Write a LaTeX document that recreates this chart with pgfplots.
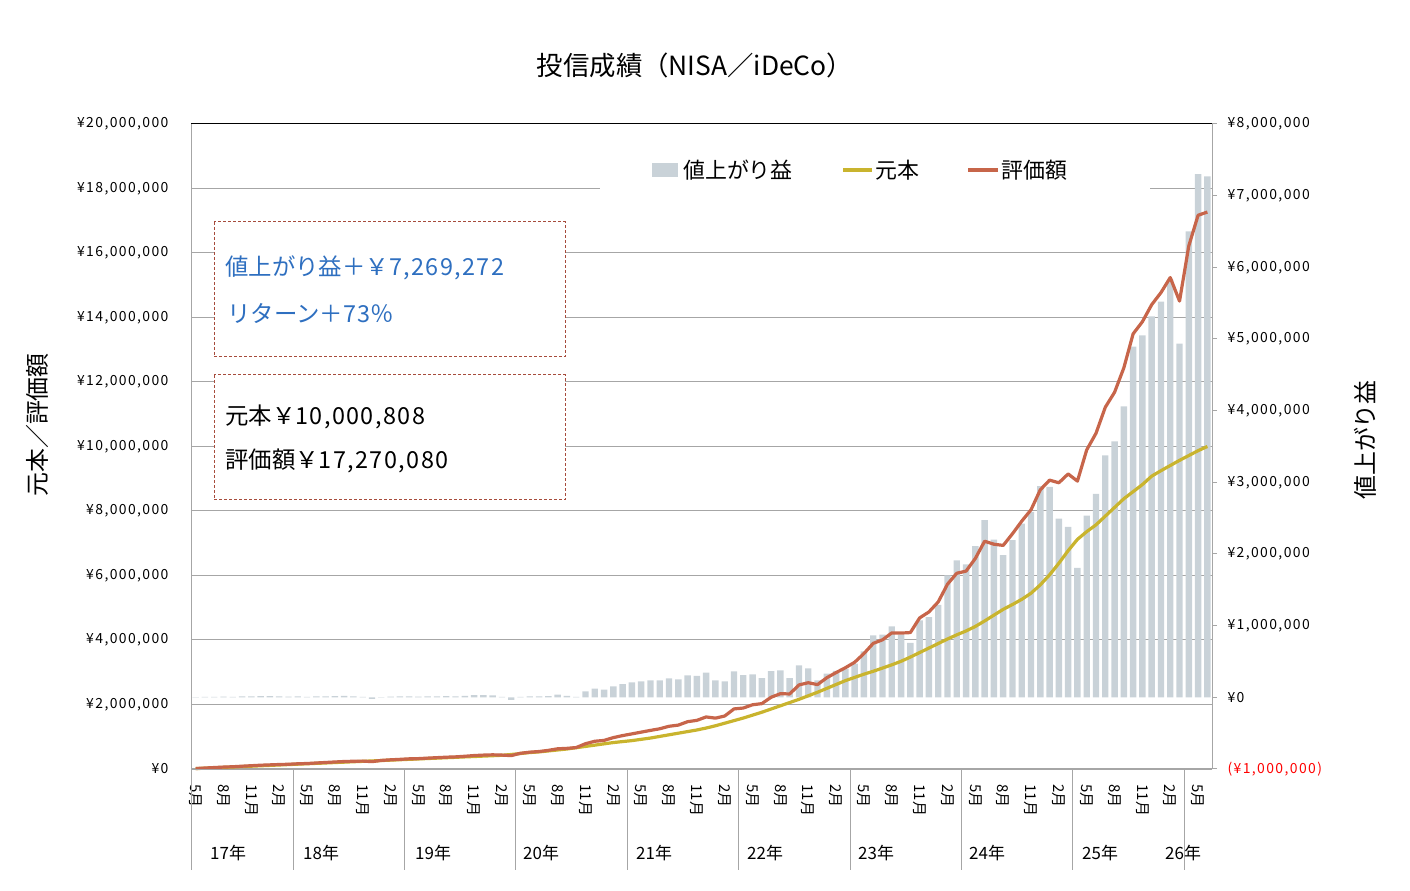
\documentclass[border=0pt]{standalone}
\usepackage{fontspec}
\usepackage{pgfplots}
\usepackage{pgfplotstable}
\pgfplotsset{compat=1.18}
\setmainfont{Noto Sans CJK JP}
\newfontfamily\numfont{Noto Sans CJK JP}[LetterSpace=10]
\newfontfamily\boxnum{Noto Sans CJK JP}[LetterSpace=6]
\definecolor{barc}{HTML}{C9D2D8}
\definecolor{ylw}{HTML}{C9B42E}
\definecolor{redl}{HTML}{C7654A}
\definecolor{bluet}{HTML}{2E6FC0}
\definecolor{boxr}{HTML}{A64B3C}
\definecolor{gridc}{HTML}{A6A6A6}
\definecolor{negred}{HTML}{FF0000}
\newcommand\ticfont{\numfont\fontsize{14}{16}\selectfont}
\newcommand\monfont{\fontsize{15}{17}\selectfont}

% i = month index (0 = 2017-05), p = principal, g = gain, v = value (million yen)
\pgfplotstableread{
i p g v
0 0.012 0.003 0.015
1 0.025 0.005 0.030
2 0.037 0.008 0.045
3 0.050 0.010 0.060
4 0.062 0.008 0.070
5 0.075 0.012 0.087
6 0.087 0.015 0.102
7 0.100 0.018 0.118
8 0.112 0.016 0.128
9 0.125 0.014 0.139
10 0.137 0.010 0.147
11 0.150 0.012 0.162
12 0.162 0.008 0.170
13 0.175 0.012 0.187
14 0.187 0.015 0.202
15 0.200 0.018 0.218
16 0.212 0.020 0.232
17 0.225 0.015 0.240
18 0.237 0.008 0.245
19 0.250 -0.022 0.228
20 0.262 0.004 0.266
21 0.275 0.010 0.285
22 0.287 0.012 0.299
23 0.300 0.015 0.315
24 0.312 0.010 0.322
25 0.325 0.012 0.337
26 0.337 0.015 0.352
27 0.350 0.016 0.366
28 0.362 0.014 0.376
29 0.375 0.020 0.395
30 0.387 0.030 0.417
31 0.400 0.031 0.431
32 0.412 0.028 0.440
33 0.425 0.006 0.431
34 0.450 -0.035 0.415
35 0.480 0.008 0.488
36 0.510 0.012 0.522
37 0.530 0.012 0.542
38 0.560 0.018 0.578
39 0.590 0.037 0.627
40 0.620 0.020 0.640
41 0.660 0.005 0.665
42 0.700 0.084 0.784
43 0.740 0.120 0.860
44 0.780 0.107 0.887
45 0.820 0.153 0.973
46 0.850 0.186 1.036
47 0.880 0.209 1.089
48 0.920 0.223 1.143
49 0.960 0.237 1.197
50 1.010 0.237 1.247
51 1.060 0.265 1.325
52 1.110 0.251 1.361
53 1.160 0.307 1.467
54 1.210 0.298 1.508
55 1.270 0.344 1.614
56 1.340 0.237 1.577
57 1.420 0.223 1.643
58 1.500 0.363 1.863
59 1.580 0.310 1.890
60 1.670 0.322 1.992
61 1.760 0.267 2.027
62 1.860 0.365 2.225
63 1.960 0.375 2.335
64 2.060 0.267 2.327
65 2.160 0.447 2.607
66 2.270 0.405 2.675
67 2.380 0.237 2.617
68 2.500 0.330 2.830
69 2.620 0.370 2.990
70 2.740 0.400 3.140
71 2.840 0.470 3.310
72 2.940 0.640 3.580
73 3.030 0.866 3.896
74 3.130 0.875 4.005
75 3.230 0.990 4.220
76 3.340 0.875 4.215
77 3.470 0.760 4.230
78 3.610 1.075 4.685
79 3.750 1.120 4.870
80 3.890 1.290 5.180
81 4.030 1.700 5.730
82 4.160 1.910 6.070
83 4.280 1.855 6.135
84 4.420 2.109 6.529
85 4.590 2.472 7.062
86 4.770 2.200 6.970
87 4.950 1.983 6.933
88 5.100 2.193 7.293
89 5.260 2.425 7.685
90 5.450 2.588 8.038
91 5.710 2.947 8.657
92 6.020 2.937 8.957
93 6.380 2.495 8.875
94 6.770 2.379 9.149
95 7.120 1.806 8.926
96 7.360 2.535 9.895
97 7.570 2.839 10.409
98 7.840 3.376 11.216
99 8.110 3.571 11.681
100 8.380 4.059 12.439
101 8.600 4.893 13.493
102 8.820 5.049 13.869
103 9.080 5.317 14.397
104 9.250 5.522 14.772
105 9.410 5.829 15.239
106 9.570 4.937 14.507
107 9.720 6.502 16.222
108 9.870 7.300 17.170
109 10.000808 7.269272 17.270080
}\data

\pgfplotsset{base/.style={
  scale only axis, width=1021bp, height=645bp,
  at={(191bp,121bp)}, anchor=south west,
  xmin=-0.5, xmax=109.5,
}}

\begin{document}
\begin{tikzpicture}[x=1bp,y=1bp]
\useasboundingbox (0,0) rectangle (1410,890);

% --- left axis: grid, tick labels, month labels
\begin{axis}[base, ymin=0, ymax=20,
  axis line style={draw=none},
  ytick={0,2,...,20},
  yticklabels={{¥0},{¥2,000,000},{¥4,000,000},{¥6,000,000},{¥8,000,000},{¥10,000,000},{¥12,000,000},{¥14,000,000},{¥16,000,000},{¥18,000,000},{¥20,000,000}},
  ymajorgrids, major grid style={gridc, line width=1bp},
  major tick length=0pt,
  yticklabel style={font=\ticfont, xshift=-19bp},
  xtick={0,3,...,108},
  xticklabels={5月,8月,11月,2月,5月,8月,11月,2月,5月,8月,11月,2月,5月,8月,11月,2月,5月,8月,11月,2月,5月,8月,11月,2月,5月,8月,11月,2月,5月,8月,11月,2月,5月,8月,11月,2月,5月},
  xticklabel style={yshift=-12bp, rotate=-90, anchor=west, font=\monfont},
]
\end{axis}

% --- right axis: gains as bars
\begin{axis}[base, ymin=-1, ymax=8,
  axis x line=none, axis y line*=right,
  axis line style={draw=none},
  ytick={-1,0,...,8},
  yticklabels={{\color{negred}(¥1,000,000)},{¥0},{¥1,000,000},{¥2,000,000},{¥3,000,000},{¥4,000,000},{¥5,000,000},{¥6,000,000},{¥7,000,000},{¥8,000,000}},
  tick align=outside, major tick length=5bp,
  major tick style={gridc, line width=1bp},
  yticklabel style={font=\ticfont, xshift=7bp},
]
\addplot[ybar, bar width=6.4bp, bar shift=0pt, fill=barc, draw=none] table[x=i, y=g]{\data};
\end{axis}

% --- lines on left scale
\begin{axis}[base, ymin=0, ymax=20, hide axis, clip=false]
\addplot[ylw, line width=3.2bp, line join=round] table[x=i, y=p]{\data};
\addplot[redl, line width=3.2bp, line join=round] table[x=i, y=v]{\data};
\end{axis}

% frame
\draw[gridc, line width=1bp] (191,20) -- (191,766);
\draw[gridc, line width=1bp] (1212,121) -- (1212,766);
\draw[black, line width=1bp] (191,766) -- (1212,766);
\draw[gridc, line width=1bp] (191,121) -- (1212,121);

% year separators
\foreach \xx in {293.1,404.5,515.9,627.3,738.7,850.1,961.5,1072.9,1184.2}
  \draw[gridc, line width=1bp] (\xx,121) -- (\xx,20);

% year labels
\foreach \xx/\yy in {210/17,303/18,415/19,523/20,636/21,747/22,858/23,969/24,1082/25,1165/26}
  \node[anchor=west, inner sep=0pt, font=\fontsize{17}{20}\selectfont] at (\xx,37) {\yy 年};

% legend
\fill[white] (600,695) rectangle (1150,740);
\fill[barc] (652,713) rectangle (678,727);
\node[anchor=west, inner sep=0pt, font=\fontsize{22}{26}\selectfont] at (683,720) {値上がり益};
\draw[ylw, line width=3.5bp] (843,720) -- (872,720);
\node[anchor=west, inner sep=0pt, font=\fontsize{22}{26}\selectfont] at (875,720) {元本};
\draw[redl, line width=3.5bp] (968,720) -- (998,720);
\node[anchor=west, inner sep=0pt, font=\fontsize{22}{26}\selectfont] at (1001,720) {評価額};

% annotation boxes
\draw[boxr, line width=1bp, dash pattern=on 3bp off 2bp, fill=white] (214,668) rectangle (565,533);
\node[anchor=west, inner sep=0pt, text=bluet, font=\fontsize{23.5}{27}\selectfont] at (225,622) {値上がり益＋￥{\boxnum 7,269,272}};
\node[anchor=west, inner sep=0pt, text=bluet, font=\fontsize{23.5}{27}\selectfont] at (227,577) {リターン＋{\boxnum 73}％};
\draw[boxr, line width=1bp, dash pattern=on 3bp off 2bp, fill=white] (214,515) rectangle (565,390);
\node[anchor=west, inner sep=0pt, font=\fontsize{23.5}{27}\selectfont] at (225,473) {元本￥{\boxnum 10,000,808}};
\node[anchor=west, inner sep=0pt, font=\fontsize{23.5}{27}\selectfont] at (225,429) {評価額￥{\boxnum 17,270,080}};

% titles
\node[font=\fontsize{26.5}{30}\selectfont] at (695,825) {投信成績（NISA／iDeCo）};
\node[rotate=90, font=\fontsize{24}{28}\selectfont] at (37,465) {元本／評価額};
\node[rotate=90, font=\fontsize{24}{28}\selectfont] at (1365,450) {値上がり益};
\end{tikzpicture}
\end{document}
